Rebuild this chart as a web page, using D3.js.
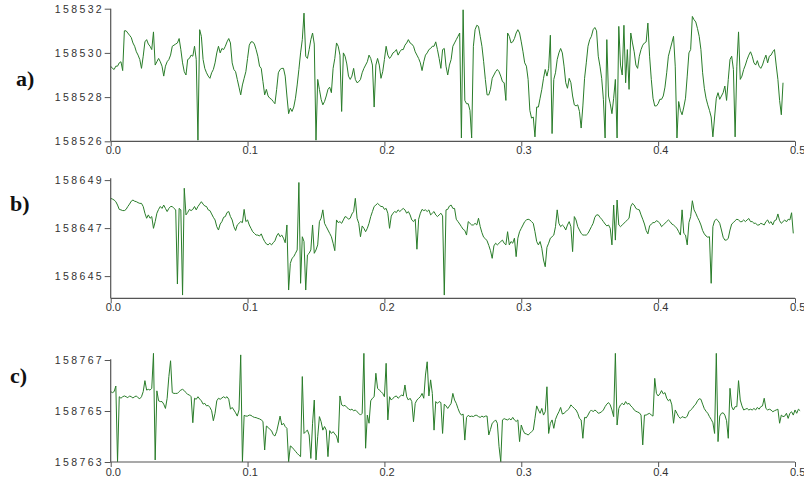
<!DOCTYPE html>
<html>
<head>
<meta charset="utf-8">
<script src="https://cdn.jsdelivr.net/npm/d3@7"></script>
<style>
  body { margin: 0; background: #fff; }
  svg { display: block; }
  .tick text { font-family: "Liberation Sans", Arial, sans-serif; fill: #333; }
  .panel-label { font-family: "Liberation Serif", "Times New Roman", serif; font-weight: bold; font-size: 22px; fill: #111; }
</style>
</head>
<body>
<svg id="chart" width="804" height="481"></svg>
<script>
// sampling step of the three traces (seconds)
const dt = 0.00125
const xTicks = [0, 0.1, 0.2, 0.3, 0.4, 0.5]

// a) readings, as offsets from baseA
const baseA = 158526
const ticksA = [158526, 158528, 158530, 158532]
const devA = [
  3.4, 3.3, 3.25, 3.4, 3.4, 3.55, 3.6, 3.2, 5.0, 5.0,
  4.9, 4.8, 4.7, 4.45, 4.3, 4.05, 3.9, 3.7, 3.3, 3.85,
  4.5, 4.6, 4.4, 4.3, 4.15, 4.95, 3.45, 3.6, 3.75, 3.6,
  3.4, 2.95, 3.4, 3.6, 3.7, 3.9, 4.3, 4.35, 4.4, 4.45,
  4.65, 4.15, 3.55, 3.15, 3.0, 3.7, 3.75, 3.9, 3.85, 4.3,
  3.7, 0.05, 5.05, 4.75, 3.7, 3.3, 3.1, 2.95, 2.85, 3.1,
  3.25, 3.55, 4.0, 4.3, 4.0, 4.2, 4.15, 4.3, 4.5, 4.65,
  4.45, 3.55, 3.25, 3.15, 2.8, 2.45, 2.1, 2.55, 2.85, 3.15,
  3.75, 4.35, 4.5, 4.5, 4.4, 4.15, 3.85, 3.4, 3.3, 2.7,
  2.1, 2.35, 2.05, 1.95, 1.9, 1.8, 1.7, 2.35, 3.1, 3.25,
  3.3, 3.3, 2.95, 2.05, 1.25, 1.5, 1.35, 1.55, 1.95, 2.55,
  3.25, 4.0, 4.6, 5.8, 3.85, 3.75, 4.15, 4.6, 4.9, 4.4,
  0.05, 2.8, 2.35, 1.9, 1.65, 1.8, 2.05, 2.35, 2.45, 2.2,
  3.3, 3.75, 4.45, 4.3, 3.9, 1.35, 4.0, 3.85, 3.5, 2.95,
  2.8, 2.95, 3.3, 2.8, 2.65, 2.7, 2.8, 3.1, 3.3, 3.45,
  3.6, 3.9, 3.75, 3.45, 1.55, 3.45, 3.75, 3.45, 2.85, 3.15,
  3.7, 4.3, 3.9, 3.75, 3.85, 4.0, 4.05, 4.15, 3.9, 4.05,
  4.15, 4.15, 4.35, 4.45, 4.6, 4.45, 4.4, 4.3, 4.05, 3.9,
  3.75, 3.55, 3.2, 3.6, 3.9, 4.0, 4.15, 4.2, 4.3, 4.3,
  4.5, 4.15, 3.75, 3.3, 4.15, 4.2, 3.4, 3.0, 3.45, 3.7,
  4.3, 4.45, 4.6, 4.75, 4.9, 0.15, 5.95, 1.85, 1.7, 1.7,
  1.4, 0.15, 4.3, 5.05, 5.25, 5.2, 4.75, 4.3, 3.6, 2.8,
  2.1, 2.1, 2.35, 2.85, 3.0, 3.15, 3.25, 3.15, 2.95, 2.7,
  2.65, 1.85, 4.9, 4.75, 4.45, 4.5, 4.65, 4.9, 5.05, 4.9,
  4.5, 4.05, 3.55, 3.4, 2.8, 1.4, 1.05, 1.1, 0.2, 1.55,
  1.55, 1.95, 2.35, 2.85, 3.25, 2.95, 3.3, 4.8, 0.35, 2.8,
  3.1, 3.7, 4.0, 4.2, 4.0, 3.4, 2.65, 2.4, 2.85, 2.65,
  2.05, 1.65, 1.6, 1.65, 1.35, 0.6, 1.6, 2.85, 3.55, 4.3,
  4.6, 4.75, 5.05, 5.15, 5.0, 3.85, 3.4, 2.85, 1.9, 0.15,
  4.6, 2.05, 1.7, 1.25, 1.95, 2.8, 0.15, 5.2, 3.45, 3.0,
  5.25, 2.65, 4.15, 2.35, 4.9, 4.45, 4.05, 3.45, 3.3, 3.85,
  4.15, 4.35, 4.45, 4.5, 5.35, 3.85, 2.8, 1.95, 1.6, 1.6,
  1.7, 1.9, 1.9, 2.05, 2.45, 3.1, 3.85, 4.15, 4.45, 4.75,
  3.4, 0.15, 1.8, 1.4, 1.2, 1.55, 1.95, 2.95, 4.0, 4.15,
  5.65, 5.5, 5.4, 5.1, 4.75, 4.15, 3.1, 2.4, 1.95, 1.65,
  1.4, 1.1, 0.2, 1.1, 1.95, 2.2, 1.9, 2.05, 2.2, 2.5,
  1.85, 2.8, 3.7, 3.85, 3.25, 0.2, 3.4, 4.95, 2.8, 2.95,
  3.25, 3.45, 3.7, 3.9, 4.05, 3.85, 3.55, 3.45, 3.65, 3.4,
  3.3, 3.45, 3.7, 3.9, 3.55, 3.85, 3.9, 4.05, 4.15, 3.45,
  2.8, 1.85, 1.2, 2.65
]

// b) readings, as offsets from baseB
const baseB = 158644
const ticksB = [158645, 158647, 158649]
const devB = [
  4.24, 4.21, 4.17, 4.1, 3.96, 3.78, 3.76, 3.73, 3.73, 3.78,
  3.9, 4.0, 4.12, 4.17, 4.12, 4.1, 4.06, 4.03, 4.03, 3.9,
  3.62, 3.41, 3.55, 3.41, 3.48, 2.99, 3.27, 3.62, 3.78, 3.9,
  3.82, 3.96, 3.82, 3.69, 3.82, 3.9, 3.9, 3.82, 3.76, 0.67,
  3.82, 3.76, 0.21, 4.66, 3.55, 3.65, 3.78, 3.73, 3.78, 3.9,
  3.76, 3.9, 4.0, 4.1, 4.0, 3.92, 3.9, 3.76, 3.73, 3.59,
  3.45, 3.34, 3.06, 2.92, 3.17, 3.27, 3.45, 3.48, 3.65, 3.69,
  3.48, 3.34, 3.06, 2.9, 3.13, 3.2, 3.27, 3.23, 3.78, 3.27,
  3.34, 3.13, 2.99, 2.85, 2.78, 2.71, 2.71, 2.67, 2.76, 2.58,
  2.44, 2.34, 2.3, 2.37, 2.3, 2.39, 2.47, 2.67, 2.78, 2.64,
  2.71, 2.58, 2.39, 3.13, 0.42, 1.53, 1.74, 1.81, 1.95, 2.09,
  4.9, 0.7, 2.64, 2.44, 0.42, 1.88, 1.95, 2.09, 3.13, 1.95,
  2.09, 2.3, 3.27, 3.41, 3.76, 3.2, 3.06, 2.92, 2.78, 2.64,
  2.37, 2.06, 3.34, 3.23, 3.27, 3.2, 3.34, 3.48, 3.45, 3.37,
  3.41, 3.59, 3.69, 4.24, 3.41, 3.2, 2.64, 3.09, 2.99, 2.85,
  2.99, 3.2, 3.48, 3.69, 3.9, 3.96, 4.03, 3.96, 3.9, 3.9,
  3.78, 3.82, 3.62, 2.99, 3.5, 3.62, 3.69, 3.65, 3.76, 3.69,
  3.76, 3.82, 3.76, 3.62, 3.69, 3.55, 3.34, 3.27, 3.37, 2.12,
  3.37, 3.62, 3.78, 3.73, 3.76, 3.69, 3.76, 3.55, 3.62, 3.69,
  3.55, 3.48, 3.55, 3.62, 3.51, 0.21, 3.76, 3.78, 3.92, 3.96,
  3.82, 3.82, 3.37, 3.27, 3.17, 3.06, 2.95, 2.9, 2.71, 3.27,
  3.2, 3.13, 3.13, 3.2, 3.13, 3.41, 3.06, 2.81, 2.62, 2.56,
  2.47, 2.28, 2.06, 1.74, 2.26, 2.37, 2.3, 2.37, 2.44, 2.5,
  2.37, 2.3, 2.85, 2.3, 2.44, 2.37, 2.58, 1.81, 2.58, 2.85,
  2.99, 3.13, 3.27, 3.34, 3.37, 3.34, 3.27, 3.2, 2.85, 2.44,
  2.3, 2.44, 2.16, 1.67, 1.39, 2.2, 2.37, 2.58, 2.64, 2.71,
  3.06, 3.76, 3.2, 3.06, 3.13, 3.06, 2.92, 3.13, 3.27, 3.06,
  2.02, 3.48, 3.34, 3.06, 2.92, 2.78, 2.71, 2.71, 2.71, 2.78,
  2.92, 3.06, 3.2, 3.45, 3.55, 3.55, 3.45, 3.37, 3.27, 3.17,
  3.09, 3.13, 2.99, 2.3, 3.96, 2.5, 4.17, 3.13, 3.06, 3.13,
  3.2, 3.27, 3.34, 3.41, 3.9, 4.03, 3.96, 3.82, 3.78, 3.76,
  3.55, 3.37, 3.17, 2.9, 2.76, 3.09, 3.17, 3.23, 3.23, 3.31,
  3.27, 3.2, 3.06, 3.13, 3.2, 3.27, 3.34, 3.27, 3.17, 3.13,
  3.06, 2.99, 2.85, 2.71, 3.76, 2.78, 2.71, 2.3, 3.23, 3.48,
  4.14, 3.76, 3.62, 3.45, 3.31, 3.13, 2.9, 2.76, 2.67, 2.62,
  2.64, 0.7, 3.06, 3.31, 3.37, 3.31, 3.2, 2.92, 2.62, 2.5,
  2.5, 2.58, 2.92, 3.17, 3.23, 3.31, 3.37, 3.34, 3.27, 3.27,
  3.34, 3.27, 3.34, 3.4, 3.27, 3.27, 3.2, 3.2, 3.13, 3.13,
  3.2, 3.17, 3.13, 3.27, 3.34, 3.2, 3.27, 3.13, 3.31, 3.34,
  3.59, 3.31, 3.2, 3.27, 3.34, 3.26, 3.37, 3.34, 3.64, 2.78
]

// c) readings, as offsets from baseC
const baseC = 158763
const ticksC = [158763, 158765, 158767]
const devC = [
  2.76, 2.72, 2.76, 2.98, 0.01, 2.56, 2.5, 2.56, 2.59, 2.56,
  2.52, 2.59, 2.56, 2.51, 2.56, 2.59, 2.52, 2.48, 2.56, 2.76,
  3.19, 2.82, 2.85, 2.82, 2.89, 4.26, 0.08, 2.79, 2.4, 2.37,
  2.37, 2.27, 2.1, 2.5, 3.35, 3.97, 2.72, 2.69, 2.69, 2.69,
  2.76, 2.82, 2.85, 2.8, 2.72, 2.65, 2.63, 2.56, 1.54, 2.5,
  2.46, 2.56, 2.47, 2.4, 2.27, 2.3, 2.2, 2.22, 2.14, 2.01,
  1.62, 1.91, 2.4, 2.5, 2.46, 2.51, 2.56, 2.51, 2.56, 2.46,
  2.07, 2.14, 2.04, 1.93, 1.8, 2.04, 4.2, 0.01, 1.83, 1.8,
  1.8, 1.84, 1.83, 1.78, 1.75, 1.74, 1.71, 1.69, 1.65, 1.59,
  0.47, 1.41, 1.36, 1.28, 1.23, 1.07, 1.02, 1.19, 1.49, 1.8,
  1.45, 1.52, 1.39, 1.32, 0.01, 0.63, 0.58, 0.5, 0.42, 0.34,
  0.27, 0.21, 3.35, 1.12, 1.19, 1.25, 1.06, 0.14, 1.52, 2.43,
  0.08, 0.99, 1.78, 1.58, 1.25, 1.39, 1.25, 0.21, 1.23, 1.12,
  1.19, 1.1, 1.02, 0.76, 2.59, 2.24, 2.2, 2.22, 2.14, 2.09,
  2.04, 2.07, 2.01, 2.04, 1.97, 1.91, 1.84, 1.91, 4.26, 0.54,
  1.84, 1.52, 2.4, 2.5, 2.56, 3.48, 2.89, 2.82, 2.76, 2.69,
  2.56, 3.87, 1.65, 2.56, 2.43, 2.5, 2.56, 2.59, 2.5, 2.56,
  2.63, 2.59, 3.02, 2.56, 2.43, 2.5, 2.37, 1.58, 2.3, 2.43,
  2.5, 2.56, 2.69, 2.5, 3.41, 3.93, 2.59, 3.22, 2.69, 1.25,
  2.37, 2.3, 2.37, 2.33, 1.12, 2.27, 2.2, 2.1, 2.2, 2.3,
  2.69, 2.43, 2.3, 2.1, 1.93, 1.84, 1.88, 0.86, 1.75, 1.83,
  1.78, 1.8, 1.78, 1.83, 1.83, 1.78, 1.75, 1.8, 1.76, 1.8,
  1.8, 1.06, 1.28, 1.52, 1.58, 1.65, 1.52, 0.6, 0.01, 1.65,
  1.7, 1.67, 1.65, 1.7, 1.65, 1.75, 1.65, 1.59, 1.65, 0.8,
  1.45, 1.25, 1.12, 1.1, 1.06, 1.12, 1.19, 1.25, 1.71, 2.2,
  2.04, 1.91, 2.1, 1.84, 1.97, 2.95, 1.12, 1.52, 1.65, 1.32,
  1.67, 1.84, 1.97, 2.14, 1.88, 1.91, 1.97, 2.04, 2.1, 2.24,
  2.17, 2.1, 2.04, 1.91, 1.71, 1.65, 0.93, 1.75, 1.73, 1.84,
  1.97, 2.04, 1.97, 2.04, 1.99, 1.91, 1.93, 1.97, 2.04, 2.17,
  2.27, 2.33, 2.24, 2.04, 1.78, 4.26, 1.45, 2.1, 2.24, 2.3,
  2.24, 2.37, 2.27, 2.3, 2.2, 2.14, 2.04, 1.99, 1.96, 1.93,
  1.84, 0.67, 1.84, 1.84, 1.88, 1.91, 1.84, 1.8, 3.28, 2.69,
  2.59, 2.67, 2.8, 2.67, 2.72, 2.5, 2.4, 2.46, 2.24, 1.52,
  2.04, 1.91, 1.78, 1.71, 1.78, 1.75, 1.73, 1.8, 1.97, 2.04,
  2.1, 2.2, 2.27, 2.4, 2.48, 2.46, 2.27, 2.09, 1.99, 1.91,
  1.78, 1.67, 1.54, 1.12, 4.26, 0.8, 1.8, 1.91, 1.93, 1.84,
  1.62, 0.93, 2.89, 2.17, 2.04, 2.17, 2.17, 3.19, 2.43, 2.2,
  2.04, 2.07, 2.1, 2.04, 2.07, 2.04, 2.1, 2.04, 2.14, 2.07,
  2.17, 2.2, 2.5, 2.1, 2.04, 2.07, 2.04, 1.97, 2.01, 2.04,
  2.07, 1.52, 1.84, 1.78, 1.8, 1.91, 1.71, 1.91, 1.97, 1.84,
  2.04, 1.91, 2.07, 2.01
]

const panels = [
  { label: "a)", labelX: 16, labelY: 86, values: devA.map(d => baseA + d), ticks: ticksA,
    domain: [baseA, baseA + 6], range: [141.3, 8.7], top: 8.7, bottom: 141.3, xLabelY: 5 },
  { label: "b)", labelX: 10, labelY: 211, values: devB.map(d => baseB + d), ticks: ticksB,
    domain: [baseB, baseB + 5], range: [300.1, 180.1], top: 178.3, bottom: 298.3, xLabelY: 5 },
  { label: "c)", labelX: 10, labelY: 383, values: devC.map(d => baseC + d), ticks: ticksC,
    domain: [baseC, baseC + 4], range: [462, 360], top: 359.3, bottom: 462, xLabelY: 6 }
]

const svg = d3.select("#chart")
const x = d3.scaleLinear().domain([0, 0.5]).range([110.7, 795])

const drawPanel = (p) => {
  const y = d3.scaleLinear().domain(p.domain).range(p.range)
  const g = svg.append("g")

  g.append("path")
    .datum(p.values)
    .attr("fill", "none")
    .attr("stroke", "#2a7d2a")
    .attr("stroke-width", 1)
    .attr("d", d3.line().x((d, i) => x(i * dt)).y(d => y(d)))

  // axis lines
  g.append("line")
    .attr("x1", x(0)).attr("x2", x(0))
    .attr("y1", p.top).attr("y2", p.bottom)
    .attr("stroke", "#555").attr("stroke-width", 1.2)
  g.append("line")
    .attr("x1", x(0)).attr("x2", x(0.5))
    .attr("y1", p.bottom).attr("y2", p.bottom)
    .attr("stroke", "#555").attr("stroke-width", 1.2)

  g.append("g")
    .attr("transform", `translate(${x(0)},0)`)
    .call(d3.axisLeft(y).tickValues(p.ticks).tickSize(6).tickFormat(d3.format("d")))
    .call(a => a.select(".domain").remove())
    .call(a => a.selectAll(".tick line").attr("stroke", "#555"))
    .call(a => a.selectAll(".tick text")
      .attr("font-size", 10.5)
      .attr("textLength", 47)
      .attr("lengthAdjust", "spacing"))

  g.append("g")
    .attr("transform", `translate(0,${p.bottom})`)
    .call(d3.axisBottom(x).tickValues(xTicks).tickSize(5).tickFormat(d3.format(".1f")))
    .call(a => a.select(".domain").remove())
    .call(a => a.selectAll(".tick line").attr("stroke", "#555"))
    .call(a => a.selectAll(".tick text")
      .attr("font-size", 11)
      .attr("text-anchor", "start")
      .attr("x", -5.5)
      .attr("y", p.xLabelY))

  svg.append("text")
    .attr("class", "panel-label")
    .attr("x", p.labelX)
    .attr("y", p.labelY)
    .text(p.label)
}

panels.forEach(drawPanel)
</script>
</body>
</html>
